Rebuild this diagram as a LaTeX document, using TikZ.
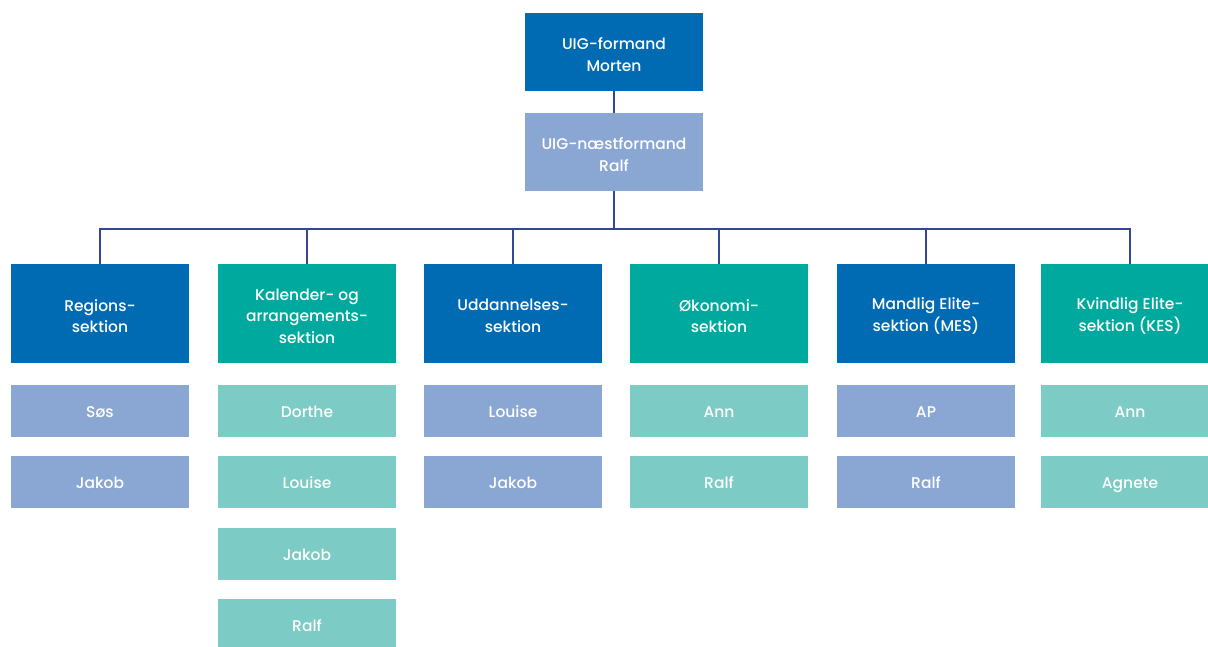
\documentclass[tikz,border=0pt]{standalone}
\usepackage{fontspec}
\setmainfont{Poppins Medium}
\definecolor{dblue}{RGB}{0,106,179}
\definecolor{lblue}{RGB}{138,167,212}
\definecolor{dteal}{RGB}{0,169,157}
\definecolor{lteal}{RGB}{124,203,196}
\definecolor{linec}{RGB}{50,72,150}
\begin{document}
\begin{tikzpicture}[x=1pt,y=-1pt,
  box/.style={rectangle, inner sep=0pt, minimum width=178pt},
  txt/.style={text=white, align=center, inner sep=0pt, yshift=-2.5pt, font=\fontsize{15.5}{21.5}\selectfont},
  mtxt/.style={txt, text height=11.5pt, text depth=3.5pt},
  head/.style={box, minimum height=78pt, label={[txt]center:#1}},
  sec/.style={box, minimum height=99pt, label={[txt]center:#1}},
  mem/.style={box, minimum height=52pt, label={[mtxt]center:#1}},
  conn/.style={draw=linec, line width=1.3pt}]
\clip (0,0) rectangle (1208,646);
\fill[white] (0,0) rectangle (1208,646);
% heads
\node[head={UIG-formand\\Morten}, fill=dblue] (top) at (614,52) {};
\node[head={UIG-næstformand\\Ralf}, fill=lblue] (vice) at (614,152) {};
% sections
\node[sec={Regions-\\sektion}, fill=dblue] (s1) at (100,313.5) {};
\node[sec={Kalender- og\\arrangements-\\sektion}, fill=dteal] (s2) at (307,313.5) {};
\node[sec={Uddannelses-\\sektion}, fill=dblue] (s3) at (513,313.5) {};
\node[sec={Økonomi-\\sektion}, fill=dteal] (s4) at (719,313.5) {};
\node[sec={Mandlig Elite-\\sektion (MES)}, fill=dblue] (s5) at (926,313.5) {};
\node[sec={Kvindlig Elite-\\sektion (KES)}, fill=dteal] (s6) at (1130,313.5) {};
% members
\node[mem={Søs}, fill=lblue] (m11) at (100,411) {};
\node[mem={Jakob}, fill=lblue] (m12) at (100,481.5) {};
\node[mem={Dorthe}, fill=lteal] (m21) at (307,411) {};
\node[mem={Louise}, fill=lteal] (m22) at (307,481.5) {};
\node[mem={Jakob}, fill=lteal] (m23) at (307,553.5) {};
\node[mem={Ralf}, fill=lteal] (m24) at (307,625) {};
\node[mem={Louise}, fill=lblue] (m31) at (513,411) {};
\node[mem={Jakob}, fill=lblue] (m32) at (513,481.5) {};
\node[mem={Ann}, fill=lteal] (m41) at (719,411) {};
\node[mem={Ralf}, fill=lteal] (m42) at (719,481.5) {};
\node[mem={AP}, fill=lblue] (m51) at (926,411) {};
\node[mem={Ralf}, fill=lblue] (m52) at (926,481.5) {};
\node[mem={Ann}, fill=lteal] (m61) at (1130,411) {};
\node[mem={Agnete}, fill=lteal] (m62) at (1130,481.5) {};
% connectors
\coordinate (bus) at (614,229);
\draw[conn] (top) -- (vice);
\draw[conn] (vice) -- (bus);
\draw[conn] (s1.north) -- (s1.north |- bus) -- (s6.north |- bus) -- (s6.north);
\foreach \s in {s2,s3,s4,s5}{\draw[conn] (\s.north) -- (\s.north |- bus);}
\end{tikzpicture}
\end{document}
